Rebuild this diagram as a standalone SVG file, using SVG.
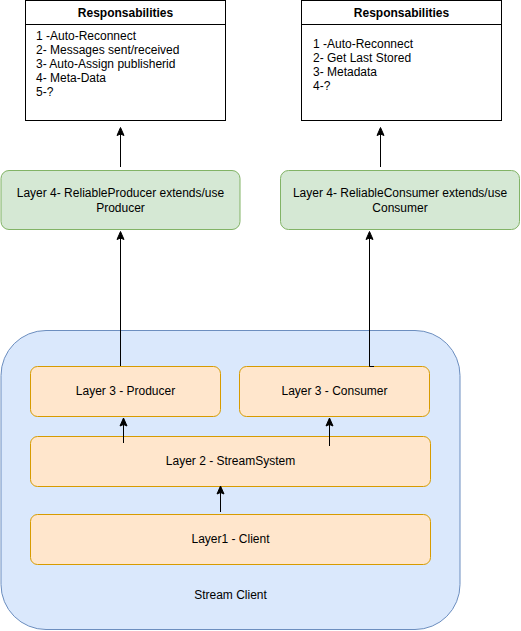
<svg xmlns="http://www.w3.org/2000/svg" width="521" height="631" viewBox="0 0 521 631">
<style>
text{font-family:"Liberation Sans",Arial,sans-serif;font-size:12px;fill:#000}
.c{text-anchor:middle}
.b{font-weight:bold}
.resp{fill:#fff;stroke:#000;stroke-width:1}
.l4{fill:#d5e8d4;stroke:#82b366;stroke-width:1}
.l3{fill:#ffe6cc;stroke:#d79b00;stroke-width:1}
.cont{fill:#dae8fc;stroke:#6c8ebf;stroke-width:1}
.edge{fill:none;stroke:#000;stroke-width:1}
.ah{fill:#000;stroke:#000;stroke-width:1}
</style>
<defs>
<path id="arr" d="M0,0 L3.5,8 L0,6.5 L-3.5,8 Z"/>
</defs>
<g id="stream-client">
<rect class="cont" x="1" y="330.5" width="459" height="299" rx="45"/>
<text class="c" x="230.5" y="599">Stream Client</text>
</g>
<g id="resp-producer">
<rect class="resp" x="25.5" y="0.5" width="200" height="120"/>
<line x1="25.5" y1="24.5" x2="225.5" y2="24.5" stroke="#000"/>
<text class="c b" x="125.5" y="17">Responsabilities</text>
<text x="36" y="40">1 -Auto-Reconnect</text>
<text x="36" y="54">2- Messages sent/received</text>
<text x="36" y="68">3- Auto-Assign publisherid</text>
<text x="36" y="82">4- Meta-Data</text>
<text x="36" y="96">5-?</text>
</g>
<g id="resp-consumer">
<rect class="resp" x="301.5" y="0.5" width="200" height="120"/>
<line x1="301.5" y1="24.5" x2="501.5" y2="24.5" stroke="#000"/>
<text class="c b" x="401.5" y="17">Responsabilities</text>
<text x="313" y="48">1 -Auto-Reconnect</text>
<text x="313" y="62">2- Get Last Stored</text>
<text x="313" y="76">3- Metadata</text>
<text x="313" y="90">4-?</text>
</g>
<g id="reliable-producer">
<rect class="l4" x="1" y="170.5" width="239" height="59" rx="8"/>
<text class="c" x="120.5" y="197">Layer 4- ReliableProducer extends/use</text>
<text class="c" x="120.5" y="212">Producer</text>
</g>
<g id="reliable-consumer">
<rect class="l4" x="280.5" y="170.5" width="239" height="59" rx="8"/>
<text class="c" x="400" y="197">Layer 4- ReliableConsumer extends/use</text>
<text class="c" x="400" y="212">Consumer</text>
</g>
<g id="layer3-producer">
<rect class="l3" x="30.5" y="366.5" width="190" height="50" rx="7"/>
<text class="c" x="125.5" y="395">Layer 3 - Producer</text>
</g>
<g id="layer3-consumer">
<rect class="l3" x="239.5" y="366.5" width="190" height="50" rx="7"/>
<text class="c" x="334.5" y="395">Layer 3 - Consumer</text>
</g>
<g id="layer2">
<rect class="l3" x="30.5" y="436.5" width="400" height="50" rx="7"/>
<text class="c" x="230.5" y="465">Layer 2 - StreamSystem</text>
</g>
<g id="layer1">
<rect class="l3" x="30.5" y="514.5" width="400" height="50" rx="7"/>
<text class="c" x="230.5" y="543">Layer1 - Client</text>
</g>
<g id="connectors">
<line class="edge" x1="120.5" y1="167" x2="120.5" y2="133"/>
<use href="#arr" class="ah" x="120.5" y="127.5"/>
<line class="edge" x1="380.5" y1="167" x2="380.5" y2="133"/>
<use href="#arr" class="ah" x="380.5" y="127.5"/>
<line class="edge" x1="120.5" y1="366" x2="120.5" y2="238"/>
<use href="#arr" class="ah" x="120.5" y="231.5"/>
<path class="edge" d="M374,366.5 H369.5 V238"/>
<use href="#arr" class="ah" x="369.5" y="231.5"/>
<line class="edge" x1="123.5" y1="443" x2="123.5" y2="424"/>
<use href="#arr" class="ah" x="123.5" y="418"/>
<line class="edge" x1="329.5" y1="446" x2="329.5" y2="424"/>
<use href="#arr" class="ah" x="329.5" y="418"/>
<line class="edge" x1="220.5" y1="512" x2="220.5" y2="492"/>
<use href="#arr" class="ah" x="220.5" y="486"/>
</g>
</svg>
